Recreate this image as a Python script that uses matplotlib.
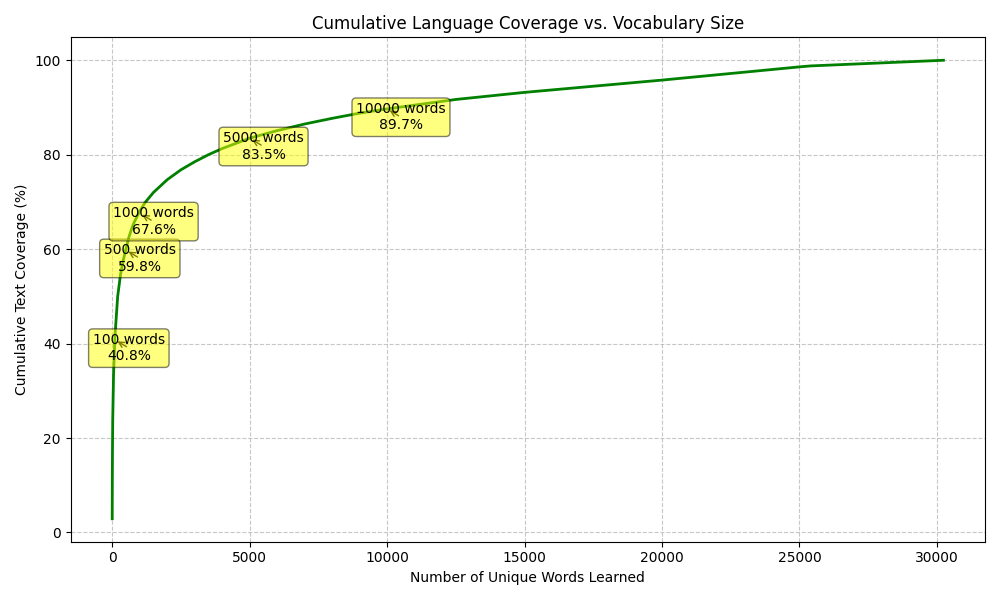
import matplotlib
matplotlib.use("Agg")
import matplotlib.pyplot as plt

# Curve (words learned -> cumulative coverage %)
words = [1, 2, 5, 10, 20, 50, 100, 200, 300, 400, 500, 600, 700, 800, 1000,
         1200, 1500, 2000, 2500, 3000, 3500, 4000, 4500, 5000, 6000, 7000,
         8000, 9000, 10000, 11000, 12500, 15000, 17500, 20000, 22500, 25000,
         25400, 30237]
coverage = [2.9, 5.5, 11.0, 17.0, 24.0, 33.5, 41.5, 50.0, 54.5, 57.6, 60.0, 62.4,
            64.2, 65.7, 68.0, 69.9, 72.0, 74.7, 76.8, 78.5, 80.0, 81.3, 82.4,
            83.5, 85.1, 86.5, 87.7, 88.8, 89.7, 90.5, 91.7, 93.2, 94.5, 95.8,
            97.2, 98.6, 98.8, 100.0]

# Annotated milestones
milestone_words = [100, 500, 1000, 5000, 10000]
milestone_cov = [40.8, 59.8, 67.6, 83.5, 89.7]

fig, ax = plt.subplots(figsize=(10, 6), dpi=100)
ax.plot(words, coverage, color="green", linewidth=2)

for w, c in zip(milestone_words, milestone_cov):
    ax.annotate(f"{w} words\n{c:.1f}%", xy=(w, c), xytext=(10, -6),
                textcoords="offset points", ha="center", va="center",
                bbox=dict(boxstyle="round,pad=0.3", fc="yellow", alpha=0.5),
                arrowprops=dict(arrowstyle="->", connectionstyle="arc3,rad=0"))

ax.set_title("Cumulative Language Coverage vs. Vocabulary Size")
ax.set_xlabel("Number of Unique Words Learned")
ax.set_ylabel("Cumulative Text Coverage (%)")
ax.grid(True, linestyle="--", alpha=0.7)
fig.tight_layout()
fig.savefig("out.png")
